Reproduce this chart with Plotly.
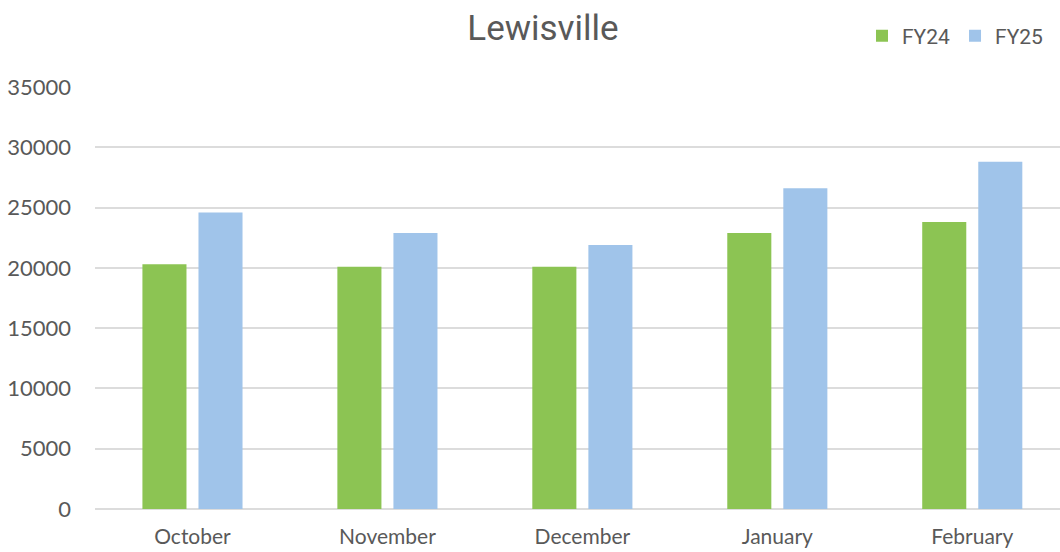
import plotly.graph_objects as go

# Monthly totals for Lewisville, fiscal years 2024 and 2025
months = ["October", "November", "December", "January", "February"]
fy24 = [20300, 20100, 20100, 22900, 23800]
fy25 = [24600, 22900, 21900, 26600, 28800]
y_ticks = [0, 5000, 10000, 15000, 20000, 25000, 30000, 35000]

GREEN = "#8cc453"
BLUE = "#a0c4ea"
TEXT = "#595959"
GRID = "#dcdcdc"

fig = go.Figure()
fig.add_trace(go.Bar(name="FY24", x=months, y=fy24, marker=dict(color=GREEN, line=dict(width=0))))
fig.add_trace(go.Bar(name="FY25", x=months, y=fy25, marker=dict(color=BLUE, line=dict(width=0))))

fig.update_layout(
    width=1060,
    height=552,
    margin=dict(l=95, r=0, t=87, b=43),
    paper_bgcolor="white",
    plot_bgcolor="white",
    barmode="group",
    bargap=0.425,
    bargroupgap=0.214,
    title=dict(
        text="Lewisville",
        x=543 / 1060,
        xanchor="center",
        xref="container",
        y=1 - 28 / 552,
        yanchor="middle",
        yref="container",
        font=dict(family="Roboto", size=35, color=TEXT),
    ),
    legend=dict(
        orientation="h",
        x=862 / 1060,
        xanchor="left",
        xref="container",
        y=1 - 36 / 552,
        yanchor="middle",
        yref="container",
        font=dict(family="Roboto", size=21, color=TEXT),
        itemwidth=30,
        bgcolor="rgba(0,0,0,0)",
    ),
    xaxis=dict(
        range=[-0.5, 4.45],
        automargin=False,
        showgrid=False,
        showline=False,
        zeroline=False,
        ticks="",
        tickfont=dict(family="Lato", size=21, color=TEXT),
        ticklabelstandoff=13,
    ),
    yaxis=dict(
        range=[0, 35000],
        automargin=False,
        tickvals=y_ticks,
        ticktext=[str(v) for v in y_ticks],
        showgrid=True,
        gridcolor=GRID,
        gridwidth=2,
        zeroline=True,
        zerolinecolor=GRID,
        zerolinewidth=2,
        showline=False,
        ticks="",
        tickfont=dict(family="Lato", size=22, color=TEXT),
        ticklabelstandoff=23,
    ),
)

fig.write_html("out.html")
